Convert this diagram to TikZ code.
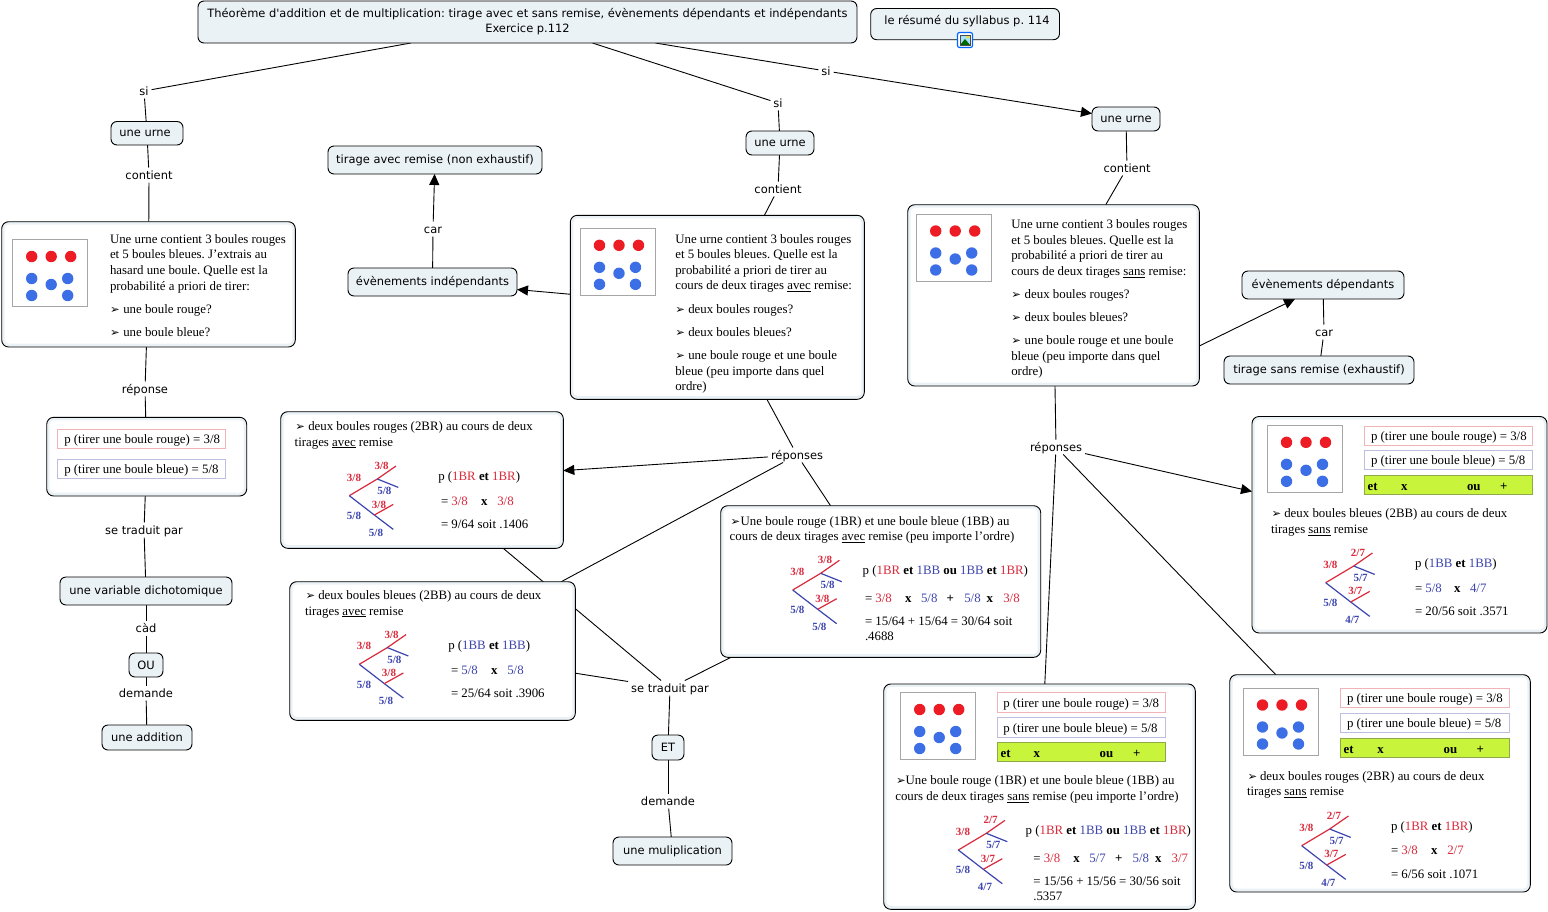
\documentclass[tikz,border=0pt]{standalone}
\usepackage{fontspec}
\setmainfont{Liberation Serif}
\newfontfamily\lblfont{DejaVu Sans}
\usetikzlibrary{arrows.meta,backgrounds}
\definecolor{rd}{HTML}{DA2A3C}
\definecolor{bl}{HTML}{3D45AE}
\definecolor{ballr}{HTML}{ED1C24}
\definecolor{ballb}{HTML}{3C6EE6}
\definecolor{pale}{HTML}{EBF2F5}
\definecolor{lime}{HTML}{C8F43C}
\definecolor{limeb}{HTML}{8FA84A}
\definecolor{pinkb}{HTML}{F0B4B8}
\definecolor{blueb}{HTML}{BDBDDF}
\newcounter{tc}
\newcommand\R[1]{\textcolor{rd}{#1}}
\newcommand\B[1]{\textcolor{bl}{#1}}
\newcommand\bul{{\lblfont\fontsize{11.5}{12}\selectfont\char"27A2}}
\tikzset{
  serif/.style={anchor=base west,inner sep=0pt,outer sep=0pt,font=\fontsize{12.85}{15}\selectfont},
  bold/.style={anchor=base west,inner sep=0pt,outer sep=0pt,font=\fontsize{12.85}{15}\selectfont\bfseries},
  treelab/.style={inner sep=0pt,font=\fontsize{11}{12}\selectfont\bfseries},
  concept/.style={draw=black,line width=0.9pt,fill=pale,rounded corners=6pt,inner sep=0pt,outer sep=0pt,align=center,font=\lblfont\fontsize{11.45}{15}\selectfont},
  plain/.style={inner sep=0pt,outer sep=0pt,font=\lblfont\fontsize{11.45}{15}\selectfont},
  link/.style={inner xsep=3pt,inner ysep=2pt,outer sep=0pt,font=\lblfont\fontsize{11.45}{13}\selectfont,text height=10pt,text depth=1pt},
  bigbox/.style={draw=black,line width=0.9pt,fill=pale,rounded corners=7pt,inner sep=0pt,outer sep=0pt},
  conn/.style={draw=black,line width=0.9pt},
  arr/.style={conn,-{Triangle[length=11pt,width=10pt]}},
  trbr/.style={line width=1.2pt,draw=rd},
  tbbr/.style={line width=1.2pt,draw=bl}
}
% text by left edge and middle height
\newcommand\tx[3]{\stepcounter{tc}\node[serif] (t\arabic{tc}) at (#1,{#2+4}) {#3};}
\newcommand\tb[3]{\stepcounter{tc}\node[bold] (t\arabic{tc}) at (#1,{#2+4}) {#3};}
\newcommand\cn[6]{\node[concept,minimum width={(#4-#2)*1pt},minimum height={(#5-#3)*1pt}] (#1) at ({(#2+#4)/2},{(#3+#5)/2}) {#6};}
\newcommand\lb[4]{\node[link] (#1) at (#2,#3) {#4};}
\newcommand\bx[5]{\node[bigbox,minimum width={(#4-#2)*1pt},minimum height={(#5-#3)*1pt}] (#1) at ({(#2+#4)/2},{(#3+#5)/2}) {};
  \fill[white,rounded corners=4pt] ({#2+3},{#3+3}) rectangle ({#4-3},{#5-3.5});}
% urn picture: top left corner
\newcommand\urn[2]{\begin{scope}[shift={(#1,#2)}]
  \draw[draw=black!35,fill=white,line width=0.8pt] (0,0) rectangle (75,67);
  \foreach \px in {19,38.5,58}{\fill[ballr] (\px,17) circle (5.7);}
  \foreach \px/\py in {19/39,38.5/45,55/39,19/56,55/56}{\fill[ballb] (\px,\py) circle (5.7);}
\end{scope}}
% probability tree: root and six labels
\newcommand\tree[8]{\begin{scope}[shift={(#1,#2)}]
  \draw[trbr] (0,0) -- (28,-16.7) -- (46.7,-29.7);
  \draw[tbbr] (28,-16.7) -- (49,-8.3);
  \draw[tbbr] (0,0) -- (25,19.3) -- (44,33.7);
  \draw[trbr] (25,19.3) -- (44,8.7);
  \stepcounter{tc}\node[treelab,text=rd] (a\arabic{tc}) at (4.7,-18.3) {#3};
  \node[treelab,text=rd] (b\arabic{tc}) at (32.3,-29.7) {#4};
  \node[treelab,text=bl] (c\arabic{tc}) at (35,-4.7) {#5};
  \node[treelab,text=rd] (d\arabic{tc}) at (29.7,8.7) {#6};
  \node[treelab,text=bl] (e\arabic{tc}) at (4.7,20.3) {#7};
  \node[treelab,text=bl] (f\arabic{tc}) at (26.7,37) {#8};
\end{scope}}
\newcommand\prbox[5]{\draw[draw=#5,line width=0.8pt,fill=white] (#1,#2) rectangle (#3,#4);}
\newcommand\probs[7]{% x0 x1 ytop1 ybot1 ytop2 ybot2 textx
  \prbox{#1}{#3}{#2}{#4}{pinkb}\prbox{#1}{#5}{#2}{#6}{blueb}
  \tx{#7}{(#3+#4)/2+0.7}{p (tirer une boule rouge) = 3/8}
  \tx{#7}{(#5+#6)/2+0.7}{p (tirer une boule bleue) = 5/8}}
\newcommand\limebar[9]{% x0 x1 y0 y1 ymid et x ou plus
  \draw[draw=limeb,fill=lime,line width=0.8pt] (#1,#3) rectangle (#2,#4);
  \tb{#6}{#5}{et}\tb{#7}{#5}{x}\tb{#8}{#5}{ou}\tb{#9}{#5}{+}}
\begin{document}
\frenchspacing
\begin{tikzpicture}[x=1pt,y=-1pt]
\useasboundingbox (0,0) rectangle (1548,911);
% concepts
\cn{title}{198}{1}{857}{43}{Théorème d'addition et de multiplication: tirage avec et sans remise, évènements dépendants et indépendants\\Exercice p.112}
\cn{resume}{870.7}{8.5}{1059.5}{39.7}{}
\node[plain] (resumetxt) at (967,21) {le résumé du syllabus p. 114};
\cn{urne1}{111}{121.5}{183}{145}{\hspace*{-4pt}une urne}
\cn{urne2}{746}{131}{814}{155}{une urne}
\cn{urne3}{1092}{107}{1160}{131}{une urne}
\cn{tavec}{328}{146}{542}{174}{tirage avec remise (non exhaustif)}
\cn{indep}{348}{268}{517}{296}{évènements indépendants}
\cn{dep}{1242}{271}{1404}{299}{évènements dépendants}
\cn{tsans}{1224}{356}{1414}{384}{tirage sans remise (exhaustif)}
\cn{dicho}{60}{577}{232}{605}{une variable dichotomique}
\cn{ou}{129}{653}{163}{677}{OU}
\cn{et}{652}{735}{684}{760}{ET}
\cn{addi}{102}{725}{192}{750}{une addition}
\cn{multi}{613}{837}{732}{865}{une muliplication}
% image icon under the summary
\draw[draw=blue!60!cyan,line width=1.2pt,fill=white,rounded corners=2pt] (957.5,32.5) rectangle (972.5,47.5);
\fill[cyan!35] (960,35) rectangle (970,45);
\fill[yellow!80!orange] (968,37) circle (1.6);
\fill[green!40!black] (960,45) -- (965,39) -- (970,45) -- cycle;
\draw[black!70,line width=0.5pt] (960,35) rectangle (970,45);
% link phrases
\lb{si1}{144}{91}{si}
\lb{si2}{778}{103}{si}
\lb{si3}{826}{71}{si}
\lb{ct1}{149}{175}{contient}
\lb{ct2}{778}{189}{contient}
\lb{ct3}{1127}{168}{contient}
\lb{rep1}{145}{389}{réponse}
\lb{rep2}{797}{455}{réponses}
\lb{rep3}{1056}{447}{réponses}
\lb{stp1}{144}{530}{se traduit par}
\lb{stp2}{670}{688}{se traduit par}
\lb{cad}{146}{628}{càd}
\lb{dem1}{146}{693}{demande}
\lb{dem2}{668}{801}{demande}
\lb{car1}{433}{229}{car}
\lb{car2}{1324}{332}{car}
% box 1
\bx{b1}{1.7}{221.7}{295.3}{347}
\urn{12.7}{239.5}
\tx{110}{239.3}{Une urne contient 3 boules rouges}
\tx{110}{254.7}{et 5 boules bleues. J’extrais au}
\tx{110}{270}{hasard une boule. Quelle est la}
\tx{110}{286}{probabilité a priori de tirer:}
\tx{110}{309}{\bul}\tx{123.3}{309}{une boule rouge?}
\tx{110}{332}{\bul}\tx{123.3}{332}{une boule bleue?}
% answer 1
\bx{a1}{46.7}{417.3}{246.7}{496}
\probs{57.3}{225.7}{429.3}{448.7}{459.3}{478.7}{64.3}
% box 2
\bx{b2}{570.3}{215.3}{864.3}{399.3}
\urn{580.5}{228.3}
\tx{675.3}{239}{Une urne contient 3 boules rouges}
\tx{675.3}{254.7}{et 5 boules bleues. Quelle est la}
\tx{675.3}{270.3}{probabilité a priori de tirer au}
\tx{675.3}{285.7}{cours de deux tirages \underline{avec} remise:}
\tx{675.3}{309}{\bul}\tx{688.3}{309}{deux boules rouges?}
\tx{675.3}{332}{\bul}\tx{688.3}{332}{deux boules bleues?}
\tx{675.3}{355}{\bul}\tx{688.3}{355}{une boule rouge et une boule}
\tx{675.3}{371}{bleue (peu importe dans quel}
\tx{675.3}{386.7}{ordre)}
% box 3
\bx{b3}{907.7}{204.7}{1199.3}{386}
\urn{916.7}{214}
\tx{1011.3}{224.3}{Une urne contient 3 boules rouges}
\tx{1011.3}{240}{et 5 boules bleues. Quelle est la}
\tx{1011.3}{255.7}{probabilité a priori de tirer au}
\tx{1011.3}{271.7}{cours de deux tirages \underline{sans} remise:}
\tx{1011.3}{294.3}{\bul}\tx{1024.7}{294.3}{deux boules rouges?}
\tx{1011.3}{317.3}{\bul}\tx{1024.7}{317.3}{deux boules bleues?}
\tx{1011.3}{340.3}{\bul}\tx{1024.7}{340.3}{une boule rouge et une boule}
\tx{1011.3}{356}{bleue (peu importe dans quel}
\tx{1011.3}{371.3}{ordre)}
% 2BR avec
\bx{c1}{280.7}{411.7}{563.3}{548.3}
\tx{295.3}{426.3}{\bul}\tx{308.3}{426.3}{deux boules rouges (2BR) au cours de deux}
\tx{294.7}{442}{tirages \underline{avec} remise}
\tree{349.3}{495.7}{3/8}{3/8}{5/8}{3/8}{5/8}{5/8}
\tx{438.3}{476.3}{p (\R{1BR} \textbf{et} \R{1BR})}
\tx{441}{501.3}{= \R{3/8}}\tb{481}{501.3}{x}\tx{497.3}{501.3}{\R{3/8}}
\tx{441}{524}{= 9/64 soit .1406}
% 2BB avec
\bx{c2}{289.7}{581.7}{575.3}{720.3}
\tx{305.7}{595.3}{\bul}\tx{318.3}{595.3}{deux boules bleues (2BB) au cours de deux}
\tx{305}{611}{tirages \underline{avec} remise}
\tree{359.3}{664.3}{3/8}{3/8}{5/8}{3/8}{5/8}{5/8}
\tx{448.3}{645}{p (\B{1BB} \textbf{et} \B{1BB})}
\tx{451}{670}{= \B{5/8}}\tb{491}{670}{x}\tx{507.3}{670}{\B{5/8}}
\tx{451}{693}{= 25/64 soit .3906}
% 1BR 1BB avec
\bx{c3}{720.7}{505.7}{1040.7}{657.3}
\tx{730.7}{521}{\bul}\tx{740.7}{521}{Une boule rouge (1BR) et une boule bleue (1BB) au}
\tx{729.7}{536.7}{cours de deux tirages \underline{avec} remise (peu importe l’ordre)}
\tree{792.7}{590}{3/8}{3/8}{5/8}{3/8}{5/8}{5/8}
\tx{862.7}{570.7}{p (\R{1BR} \textbf{et} \B{1BB} \textbf{ou} \B{1BB} \textbf{et} \R{1BR})}
\tx{865}{598}{= \R{3/8}}\tb{905}{598}{x}\tx{921}{598}{\B{5/8}}\tb{946.7}{598}{+}\tx{964.3}{598}{\B{5/8}}\tb{986.7}{598}{x}\tx{1003.3}{598}{\R{3/8}}
\tx{865}{621}{= 15/64 + 15/64 = 30/64 soit}
\tx{865}{636.7}{.4688}
% 2BB sans
\bx{d1}{1252}{416.5}{1547}{633}
\urn{1267.5}{425.3}
\probs{1364.3}{1532.3}{426}{445}{450.7}{469.7}{1371}
\limebar{1364.3}{1532.3}{475.3}{494.7}{486}{1367.7}{1401}{1467}{1500}
\tx{1271.7}{513.7}{\bul}\tx{1284.3}{513.7}{deux boules bleues (2BB) au cours de deux}
\tx{1271}{529.3}{tirages \underline{sans} remise}
\tree{1325.7}{582.7}{3/8}{2/7}{5/7}{3/7}{5/8}{4/7}
\tx{1415}{563.7}{p (\B{1BB} \textbf{et} \B{1BB})}
\tx{1415}{588}{= \B{5/8}}\tb{1454}{588}{x}\tx{1470}{588}{\B{4/7}}
\tx{1415}{611.7}{= 20/56 soit .3571}
% 2BR sans
\bx{d2}{1229.7}{674.7}{1530.3}{892}
\urn{1243.5}{688}
\probs{1340.3}{1509.7}{688.3}{707.7}{713.3}{732.7}{1347}
\limebar{1340.3}{1509.7}{738.3}{757.7}{749}{1343.7}{1377.3}{1443.7}{1476.7}
\tx{1247.7}{776.3}{\bul}\tx{1260}{776.3}{deux boules rouges (2BR) au cours de deux}
\tx{1247}{791.7}{tirages \underline{sans} remise}
\tree{1301.7}{845.7}{3/8}{2/7}{5/7}{3/7}{5/8}{4/7}
\tx{1391}{826}{p (\R{1BR} \textbf{et} \R{1BR})}
\tx{1391}{850.7}{= \R{3/8}}\tb{1431}{850.7}{x}\tx{1447.3}{850.7}{\R{2/7}}
\tx{1391}{874}{= 6/56 soit .1071}
% 1BR 1BB sans
\bx{d3}{883.7}{684}{1195.3}{909.3}
\urn{900.7}{692.5}
\probs{997}{1165.3}{692.7}{712.7}{717.3}{737.3}{1003.3}
\limebar{997}{1165.3}{742.3}{761.7}{753}{1000.7}{1033.7}{1099.7}{1133}
\tx{896}{780.7}{\bul}\tx{905.7}{780.7}{Une boule rouge (1BR) et une boule bleue (1BB) au}
\tx{895.3}{796.7}{cours de deux tirages \underline{sans} remise (peu importe l’ordre)}
\tree{958.3}{850}{3/8}{2/7}{5/7}{3/7}{5/8}{4/7}
\tx{1025.7}{830}{p (\R{1BR} \textbf{et} \B{1BB} \textbf{ou} \B{1BB} \textbf{et} \R{1BR})}
\tx{1033.3}{858}{= \R{3/8}}\tb{1073.3}{858}{x}\tx{1089.3}{858}{\B{5/7}}\tb{1115}{858}{+}\tx{1132.7}{858}{\B{5/8}}\tb{1155}{858}{x}\tx{1171.7}{858}{\R{3/7}}
\tx{1033.3}{881.3}{= 15/56 + 15/56 = 30/56 soit}
\tx{1033.3}{896.7}{.5357}
% free ends of the link from box 3 to the dependent events
\coordinate (b3out) at (1199.3,346);
\coordinate (depin) at (1295,299);
% connectors
\begin{scope}[on background layer]
\draw[conn] (title) -- (si1);
\draw[conn] (si1) -- (urne1);
\draw[conn] (urne1) -- (ct1);
\draw[conn] (ct1) -- (b1);
\draw[conn] (b1) -- (rep1);
\draw[conn] (rep1) -- (a1);
\draw[conn] (a1) -- (stp1);
\draw[conn] (stp1) -- (dicho);
\draw[conn] (dicho) -- (cad);
\draw[conn] (cad) -- (ou);
\draw[conn] (ou) -- (dem1);
\draw[conn] (dem1) -- (addi);
\draw[conn] (title) -- (si2);
\draw[conn] (si2) -- (urne2);
\draw[conn] (urne2) -- (ct2);
\draw[conn] (ct2) -- (b2);
\draw[arr] (b2) -- (indep);
\draw[conn] (indep) -- (car1);
\draw[arr] (car1) -- (tavec);
\draw[conn] (b2) -- (rep2);
\draw[arr] (rep2) -- (c1);
\draw[conn] (rep2) -- (c2);
\draw[conn] (rep2) -- (c3);
\draw[conn] (c1) -- (stp2);
\draw[conn] (c2) -- (stp2);
\draw[conn] (c3) -- (stp2);
\draw[conn] (stp2) -- (et);
\draw[conn] (et) -- (dem2);
\draw[conn] (dem2) -- (multi);
\draw[conn] (title) -- (si3);
\draw[arr] (si3) -- (urne3);
\draw[conn] (urne3) -- (ct3);
\draw[conn] (ct3) -- (b3);
\draw[arr] (b3out) -- (depin);
\draw[conn] (tsans) -- (car2);
\draw[conn] (car2) -- (dep);
\draw[conn] (b3) -- (rep3);
\draw[arr] (rep3) -- (d1);
\draw[conn] (rep3) -- (d2);
\draw[conn] (rep3) -- (d3);
\end{scope}
\end{tikzpicture}
\end{document}
